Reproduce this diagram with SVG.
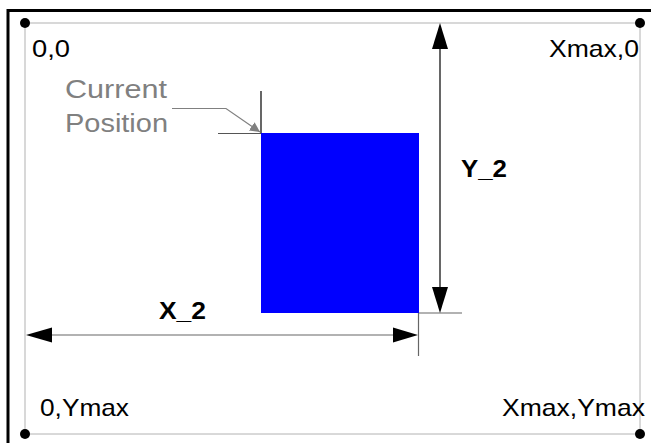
<svg xmlns="http://www.w3.org/2000/svg" width="651" height="443" viewBox="0 0 651 443">
<style>
.lbl{font-family:"Liberation Sans",Arial,sans-serif;font-size:24px;fill:#000}
.gl{font-family:"Liberation Sans",Arial,sans-serif;font-size:25px;fill:#808080}
.bl{font-family:"Liberation Sans",Arial,sans-serif;font-size:24px;font-weight:bold;fill:#000}
.dot{fill:#000}
</style>
<defs>
<marker id="ahg" viewBox="0 0 10 10" refX="10" refY="5" markerWidth="10" markerHeight="10" markerUnits="userSpaceOnUse" orient="auto"><path d="M0,0 L10,5 L0,10 z" fill="#808080"/></marker>
</defs>
<rect width="651" height="443" fill="#fff"/>
<g id="frame">
<rect x="8" y="10.5" width="700" height="500" fill="none" stroke="#000" stroke-width="3"/>
<rect x="25" y="23" width="615" height="411" fill="none" stroke="#cccccc" stroke-width="1.5"/>
</g>
<g id="corners">
<circle class="dot" cx="25" cy="23" r="5"/>
<circle class="dot" cx="640" cy="23" r="5"/>
<circle class="dot" cx="25" cy="434" r="5"/>
<circle class="dot" cx="640" cy="434" r="5"/>
<text class="lbl" x="32" y="57" textLength="38" lengthAdjust="spacingAndGlyphs">0,0</text>
<text class="lbl" x="549" y="57" textLength="90" lengthAdjust="spacingAndGlyphs">Xmax,0</text>
<text class="lbl" x="40" y="416" textLength="89" lengthAdjust="spacingAndGlyphs">0,Ymax</text>
<text class="lbl" x="502" y="416" textLength="143" lengthAdjust="spacingAndGlyphs">Xmax,Ymax</text>
</g>
<g id="rect">
<rect x="261" y="133" width="158" height="180" fill="#0000ff"/>
</g>
<g id="current-position">
<text class="gl" x="65" y="98" textLength="102" lengthAdjust="spacingAndGlyphs">Current</text>
<text class="gl" x="65" y="132" textLength="103" lengthAdjust="spacingAndGlyphs">Position</text>
</g>
<g id="connectors">
<line x1="261" y1="91" x2="261" y2="133" stroke="#000" stroke-width="1.2"/>
<line x1="218" y1="133.5" x2="261" y2="133.5" stroke="#555" stroke-width="1.2"/>
<polyline points="172,108.5 226,108.5 260,132" fill="none" stroke="#808080" stroke-width="1.2" marker-end="url(#ahg)"/>
<line x1="418.5" y1="313" x2="418.5" y2="356" stroke="#666" stroke-width="1.2"/>
<line x1="419" y1="313" x2="462" y2="313" stroke="#666" stroke-width="1.2"/>
<line x1="50" y1="335" x2="394" y2="335" stroke="#666" stroke-width="1.2"/>
<path d="M26,335 L52,327.5 L52,342.5 z" fill="#000"/>
<path d="M418,335 L393,327.5 L393,342.5 z" fill="#000"/>
<line x1="440" y1="45" x2="440" y2="290" stroke="#000" stroke-width="1.2"/>
<path d="M440,23 L432,49 L448,49 z" fill="#000"/>
<path d="M440,313 L432,287 L448,287 z" fill="#000"/>
<text class="bl" x="159" y="319" textLength="47" lengthAdjust="spacingAndGlyphs">X_2</text>
<text class="bl" x="461" y="177" textLength="46" lengthAdjust="spacingAndGlyphs">Y_2</text>
</g>
</svg>
